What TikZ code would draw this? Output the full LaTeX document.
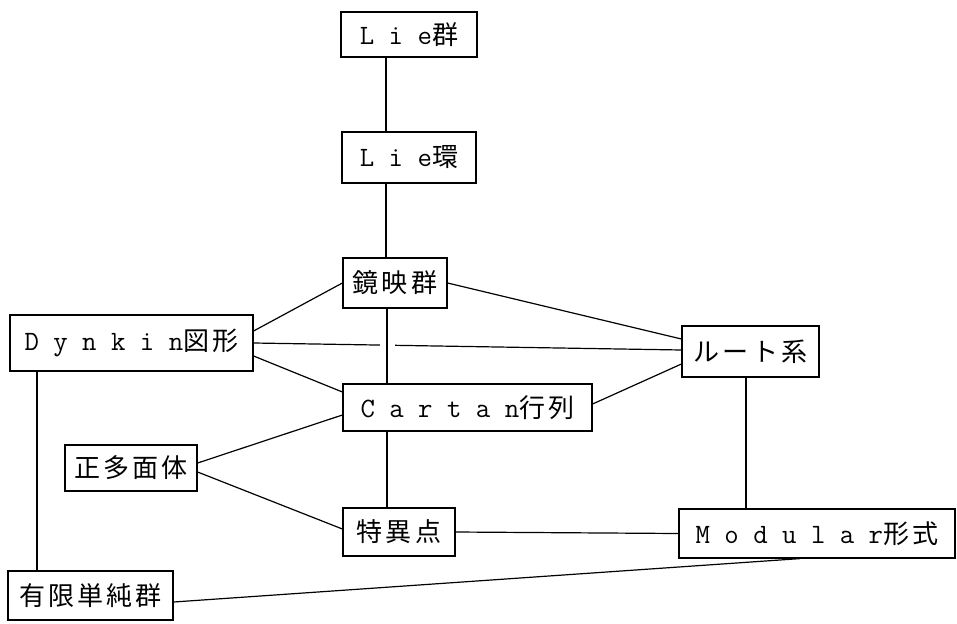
\documentclass[tikz,border=0pt]{standalone}
\usepackage{fontspec}
\newfontfamily\jp[LetterSpace=12,Scale=0.93]{Noto Sans CJK JP}
\newcommand\jj[1]{{\jp #1}}
\begin{document}
\begin{tikzpicture}[x=1pt,y=-1pt,
  box/.style={draw, line width=1.2pt, inner sep=0pt, fill=white,
    font=\fontsize{28}{30}\selectfont\ttfamily},
  conn/.style={line width=1.2pt}]
\useasboundingbox[fill=white] (0,0) rectangle (957,623);
\node[box, minimum width=136, minimum height=45] (LieG) at (409,34.5) {L i e\jj{群}};
\node[box, minimum width=134, minimum height=51] (LieR) at (409,157.5) {L i e\jj{環}};
\node[box, minimum width=104, minimum height=50] (Kyo) at (395,283) {\jj{鏡映群}};
\node[box, minimum width=243, minimum height=56] (Dyn) at (131.5,343) {D y n k i n\jj{図形}};
\node[box, minimum width=137, minimum height=51] (Root) at (750.5,351.5) {\jj{ルート系}};
\node[box, minimum width=249, minimum height=47] (Car) at (467.5,407.5) {C a r t a n\jj{行列}};
\node[box, minimum width=132, minimum height=46] (Sei) at (131,468) {\jj{正多面体}};
\node[box, minimum width=112, minimum height=48] (Tok) at (399,532) {\jj{特異点}};
\node[box, minimum width=276, minimum height=49] (Mod) at (817,533.5) {M o d u l a r\jj{形式}};
\node[box, minimum width=165, minimum height=49] (Yug) at (90.5,595.5) {\jj{有限単純群}};
\coordinate (v1) at (386,0);
\coordinate (v2) at (387,0);
\coordinate (v3) at (746,0);
\coordinate (v4) at (37,0);
\coordinate (m1) at (800,0);
\draw[conn] (LieG.south -| v1) -- (LieR.north -| v1);
\draw[conn] (LieR.south -| v1) -- (Kyo.north -| v1);
\draw[conn] (Kyo.west) -- ([yshift=12pt]Dyn.east);
\draw[conn] (Dyn.east) -- ([yshift=1.5pt]Root.west);
\draw[conn] ([yshift=-13pt]Dyn.east) -- ([yshift=15.5pt]Car.west);
\draw[conn, preaction={draw=white, line width=15pt, shorten <=3pt, shorten >=3pt}]
  (Kyo.south -| v2) -- (Car.north -| v2);
\draw[conn] (Kyo.east) -- ([yshift=12.5pt]Root.west);
\draw[conn] ([yshift=3.5pt]Car.east) -- ([yshift=-12.5pt]Root.west);
\draw[conn] ([yshift=5pt]Sei.east) -- ([yshift=-7.5pt]Car.west);
\draw[conn] ([yshift=-4pt]Sei.east) -- ([yshift=3pt]Tok.west);
\draw[conn] (Car.south -| v2) -- (Tok.north -| v2);
\draw[conn] (Tok.east) -- (Mod.west);
\draw[conn] (Root.south -| v3) -- (Mod.north -| v3);
\draw[conn] (Dyn.south -| v4) -- (Yug.north -| v4);
\draw[conn] ([yshift=-6.5pt]Yug.east) -- (Mod.south -| m1);
\end{tikzpicture}
\end{document}
